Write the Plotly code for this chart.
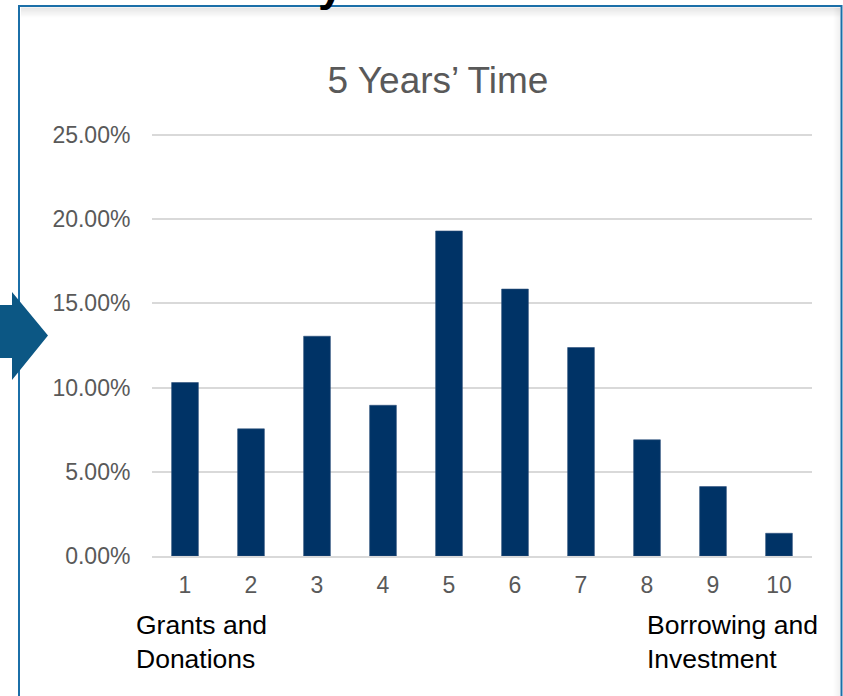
import plotly.graph_objects as go

# Share of funding by position on the scale (1 = grants/donations, 10 = borrowing/investment)
categories = [1, 2, 3, 4, 5, 6, 7, 8, 9, 10]
shares = [0.1030, 0.0755, 0.1305, 0.0895, 0.1930, 0.1585, 0.1238, 0.0690, 0.0412, 0.0135]
y_ticks = [0, 0.05, 0.10, 0.15, 0.20, 0.25]

title_text = "5 Years’ Time"
left_label = "Grants and<br>Donations"
right_label = "Borrowing and<br>Investment"

W, H = 843, 696
L, R, T, B = 152, 31, 133, 140
PW, PH = W - L - R, H - T - B
# leave a little headroom above the top gridline so it is not clipped
Y_TOP = y_ticks[-1] * PH / (PH - 2)


def px(x):
    return (x - L) / PW


def py(y):
    return (H - B - y) / PH


FONT = "Arial, Liberation Sans, sans-serif"
NAVY = "#003366"
GREY_TXT = "#595959"
GRID = "#d9d9d9"
BORDER = "#1b6fa8"
ARROW = "#0c5784"

fig = go.Figure(
    go.Bar(
        x=categories,
        y=shares,
        marker=dict(color=NAVY, line=dict(color="#2b4f7a", width=0.6)),
        width=0.405,
        hoverinfo="x+y",
    )
)

shapes = []
# soft inner shadow under the top edge and inside the right edge of the panel
for i in range(10):
    op = 0.10 * (1 - i / 10)
    shapes.append(dict(type="line", xref="paper", yref="paper",
                       x0=px(21), x1=px(840), y0=py(8 + i), y1=py(8 + i),
                       line=dict(color=f"rgba(0,0,0,{op:.3f})", width=1), layer="below"))
for i in range(7):
    op = 0.06 * (1 - i / 7)
    shapes.append(dict(type="line", xref="paper", yref="paper",
                       x0=px(840 - i), x1=px(840 - i), y0=py(8), y1=py(700),
                       line=dict(color=f"rgba(0,0,0,{op:.3f})", width=1), layer="below"))
# the top gridline, drawn explicitly since Plotly drops grid lines near the edge
shapes.append(dict(type="line", xref="paper", yref="y", x0=0, x1=1,
                   y0=y_ticks[-1], y1=y_ticks[-1],
                   line=dict(color=GRID, width=1.5), layer="below"))
# panel border
shapes.append(dict(type="rect", xref="paper", yref="paper",
                   x0=px(19), x1=px(841.5), y0=py(6), y1=py(710),
                   line=dict(color=BORDER, width=2), fillcolor="rgba(0,0,0,0)", layer="above"))
# arrow pointing into the panel
arrow_pts = [(-5, 305), (12, 305), (12, 292), (48, 335.5), (12, 380), (12, 358), (-5, 358)]
path = "M " + " L ".join(f"{px(x):.5f},{py(y):.5f}" for x, y in arrow_pts) + " Z"
shapes.append(dict(type="path", xref="paper", yref="paper", path=path,
                   fillcolor=ARROW, line=dict(color=ARROW, width=0), layer="above"))

annotations = [
    dict(text=left_label, xref="paper", yref="paper", x=px(134), y=py(641.5),
         xanchor="left", yanchor="middle", align="left", showarrow=False,
         font=dict(family=FONT, size=26.5, color="#000000")),
    dict(text=right_label, xref="paper", yref="paper", x=px(645), y=py(641.5),
         xanchor="left", yanchor="middle", align="left", showarrow=False,
         font=dict(family=FONT, size=26.5, color="#000000")),
    # tail of the heading above the panel, mostly off the page
    dict(text="<b>y</b>", xref="paper", yref="paper", x=px(331), y=py(12),
         xanchor="center", yanchor="bottom", showarrow=False,
         font=dict(family=FONT, size=46, color="#000000")),
]

fig.update_layout(
    width=W, height=H,
    margin=dict(l=L, r=R, t=T, b=B, pad=0),
    paper_bgcolor="white", plot_bgcolor="white",
    showlegend=False,
    bargap=0.6,
    title=dict(text=title_text, x=438 / W, xref="container", xanchor="center",
               y=1 - 80 / H, yref="container", yanchor="middle",
               font=dict(family=FONT, size=37, color=GREY_TXT)),
    shapes=shapes,
    annotations=annotations,
    font=dict(family=FONT, color=GREY_TXT),
)

fig.update_yaxes(
    range=[0, Y_TOP], tickvals=y_ticks, tickformat=".2%",
    showgrid=True, gridcolor=GRID, gridwidth=1.5,
    zeroline=False, showline=False,
    ticks="outside", ticklen=16, tickcolor="rgba(0,0,0,0)",
    tickfont=dict(family=FONT, size=23, color=GREY_TXT),
)
fig.update_xaxes(
    range=[0.5, 10.5], tickvals=categories, ticktext=[str(c) for c in categories],
    showgrid=False, zeroline=False,
    showline=True, linecolor=GRID, linewidth=1.5,
    ticks="outside", ticklen=8, tickcolor="rgba(0,0,0,0)",
    tickfont=dict(family=FONT, size=23, color=GREY_TXT),
)

fig.write_html("out.html")
